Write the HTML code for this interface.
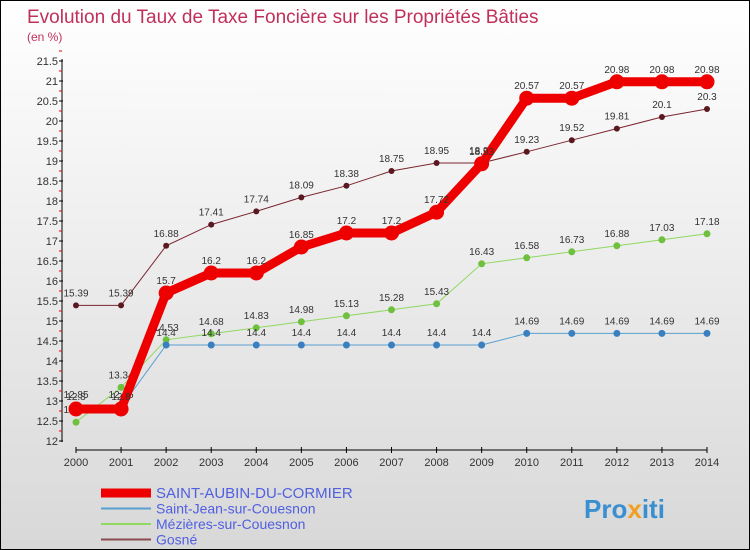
<!DOCTYPE html>
<html><head><meta charset="utf-8"><style>
body{margin:0}
#c{width:748px;height:548px;border:1px solid #000;background:linear-gradient(#fff,#d8d8d8);position:relative;font-family:"Liberation Sans",sans-serif;overflow:hidden}
</style></head><body>
<div id="c">
<svg id="s" width="748" height="548">
<text x="26" y="22" font-size="19" fill="#c0305a">Evolution du Taux de Taxe Foncière sur les Propriétés Bâties</text>
<text x="26" y="40" font-size="12" fill="#c0305a">(en %)</text>
<g id="axes"></g><g id="series"></g><g id="legend"></g>
<text x="583" y="517" font-size="26" font-weight="bold" fill="#3a8fd0">Pro<tspan fill="#f0a020">x</tspan>iti</text>
</svg></div>
<script>
const years=[2000,2001,2002,2003,2004,2005,2006,2007,2008,2009,2010,2011,2012,2013,2014];
const yTicks=[12,12.5,13,13.5,14,14.5,15,15.5,16,16.5,17,17.5,18,18.5,19,19.5,20,20.5,21,21.5];
const names=["SAINT-AUBIN-DU-CORMIER","Saint-Jean-sur-Couesnon","Mézières-sur-Couesnon","Gosné"];
const saintAubin=[12.8,12.8,15.7,16.2,16.2,16.85,17.2,17.2,17.72,18.93,20.57,20.57,20.98,20.98,20.98];
const saintJean=[12.85,12.85,14.4,14.4,14.4,14.4,14.4,14.4,14.4,14.4,14.69,14.69,14.69,14.69,14.69];
const mezieres=[12.47,13.34,14.53,14.68,14.83,14.98,15.13,15.28,15.43,16.43,16.58,16.73,16.88,17.03,17.18];
const gosne=[15.39,15.39,16.88,17.41,17.74,18.09,18.38,18.75,18.95,18.95,19.23,19.52,19.81,20.1,20.3];
const NS="http://www.w3.org/2000/svg";
const X=i=>75+i*(706-75)/14, Y=v=>440-(v-12)*40;
function mk(t,a,p,name){const e=document.createElementNS(NS,t);for(const k in a)e.setAttribute(k,a[k]);p.appendChild(e);return e;}
const ax=document.getElementById('axes');
mk('line',{x1:61,y1:58,x2:61,y2:441,stroke:'#000'},ax,'y-axis-line');
mk('line',{x1:75,y1:449,x2:706,y2:449,stroke:'#000'},ax,'x-axis-line');
yTicks.forEach(v=>{mk('line',{x1:58,y1:Y(v),x2:62,y2:Y(v),stroke:'#000'},ax,'y-tick');
 mk('line',{x1:58,y1:Y(v)-10,x2:61,y2:Y(v)-10,stroke:'#e00'},ax,'y-minor-tick');
 const t=mk('text',{x:57,y:Y(v)+4,'font-size':11,fill:'#333','text-anchor':'end'},ax,'y-tick-label');t.textContent=v;});
years.forEach((y,i)=>{mk('line',{x1:X(i),y1:446,x2:X(i),y2:452,stroke:'#000'},ax,'x-tick');
 const t=mk('text',{x:X(i),y:465,'font-size':11,fill:'#333','text-anchor':'middle'},ax,'x-tick-label');t.textContent=y;});
const sg=document.getElementById('series');
const S=[[gosne,'#7a2530','#5a1820',1,3],[mezieres,'#90d860','#70c040',1,3.5],[saintJean,'#5a9fd0','#3a80c0',1,3.5],[saintAubin,'#ee0000','#ee0000',9,7.5]];
S.forEach(([d,c,mc,w,r],k)=>{
 mk('polyline',{points:d.map((v,i)=>X(i)+','+Y(v)).join(' '),fill:'none',stroke:c,'stroke-width':w},sg,'series-line');
 d.forEach((v,i)=>{mk('circle',{cx:X(i),cy:Y(v),r:r,fill:mc},sg,'data-point');
  const t=mk('text',{x:X(i),y:Y(v)-9,'font-size':10,fill:'#333','text-anchor':'middle'},sg,'data-label');t.textContent=v;});
});
const lg=document.getElementById('legend');
const LC=['#ee0000','#5a9fd0','#90d860','#8a4a50'],LW=[9,2,2,2];
names.forEach((n,i)=>{const y=492+i*15.5;
 mk('line',{x1:100,y1:y,x2:150,y2:y,stroke:LC[i],'stroke-width':LW[i]},lg,'legend-swatch');
 const t=mk('text',{x:155,y:y+5,'font-size':i==0?15:14,fill:'#5060e0'},lg,'legend-entry');t.textContent=n;});
</script></body></html>
